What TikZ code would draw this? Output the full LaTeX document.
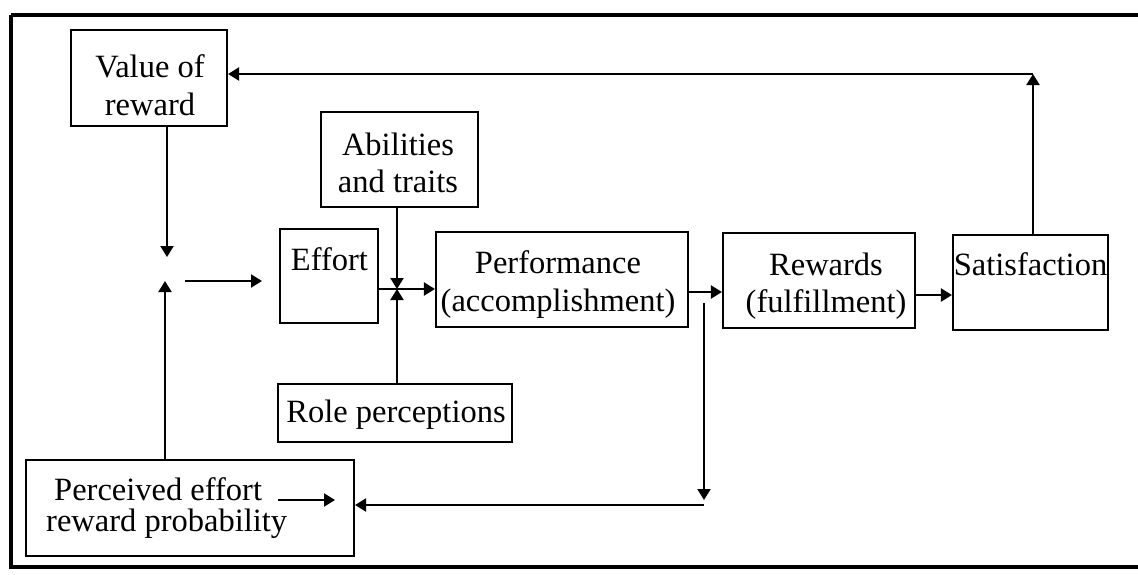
\documentclass[tikz,border=0pt]{standalone}
\usepackage{fontspec}
\setmainfont{Liberation Serif}
\usetikzlibrary{arrows.meta}
\begin{document}
\begin{tikzpicture}[x=1pt,y=-1pt,
  box/.style={draw, line width=2.1pt, inner sep=0pt, minimum width=#1},
  txt/.style={inner sep=0pt, align=center, font=\fontsize{32.5}{37.5}\selectfont},
  arr/.style={-{Triangle[length=11pt,width=13pt]}, line width=2.1pt}]
\useasboundingbox (0,0) rectangle (1138,574);
\begin{scope}
\clip (0,0) rectangle (1138,574);
\draw[line width=4.5pt] (11,15) -- (1150,15) (1150,567) -- (11,567) -- (11,15);
\end{scope}
% boxes
\node[box=156pt, minimum height=96pt] (value) at (149,78) {};
\node[box=157pt, minimum height=95pt] (abil) at (399.5,159.5) {};
\node[box=98pt, minimum height=94pt] (effort) at (329,276) {};
\node[box=252pt, minimum height=95pt] (perf) at (562,279.5) {};
\node[box=192pt, minimum height=95pt] (rew) at (819,280.5) {};
\node[box=155pt, minimum height=95pt] (sat) at (1030.5,282.5) {};
\node[box=234pt, minimum height=58pt] (role) at (395,413) {};
\node[box=328pt, minimum height=96pt] (perc) at (190,508) {};
% texts
\node[txt] (tvalue) at (150,85) {Value of\\reward};
\node[txt] (tabil) at (398,163) {Abilities\\and traits};
\node[txt, anchor=base] (teffort) at (329.5,270) {Effort};
\node[txt] (tperf) at (558,284.5) {Performance\\(accomplishment)};
\node[txt] (trew) at (826,286) {Rewards\\(fulfillment)};
\node[txt, anchor=base] (tsat) at (1030.5,275) {Satisfaction};
\node[txt, anchor=base] (trole) at (396,422) {Role perceptions};
\node[txt, align=left, anchor=west, font=\fontsize{32.5}{31}\selectfont] (tperc) at (46,508.5) {\hspace*{8pt}Perceived effort\\reward probability};
% coordinates
\coordinate (j1) at (167,257);
\coordinate (j2) at (165,281);
\coordinate (h1) at (185,281);
\coordinate (h2) at (262,281);
\coordinate (m) at (397,289);
\coordinate (y1) at (0,292);
\coordinate (y2) at (0,295);
\coordinate (c1) at (1033,74);
\coordinate (f1) at (704,303);
\coordinate (f2) at (704,500);
\coordinate (f3) at (704,505);
\coordinate (p1) at (278,500);
\coordinate (p2) at (335,500);
% connectors
\draw[arr] (value.south -| j1) -- (j1);
\draw[arr] (perc.north -| j2) -- (j2);
\draw[arr] (h1) -- (h2);
\draw[arr] (effort.east |- m) -- (perf.west |- m);
\draw[arr] (abil.south -| m) -- (m);
\draw[arr] (role.north -| m) -- (m);
\draw[arr] (perf.east |- y1) -- (rew.west |- y1);
\draw[arr] (rew.east |- y2) -- (sat.west |- y2);
\draw[arr] (sat.north -| c1) -- (c1);
\draw[arr] (c1) -- (value.east |- c1);
\draw[arr] (f1) -- (f2);
\draw[arr] (f3) -- (perc.east |- f3);
\draw[arr] (p1) -- (p2);
\end{tikzpicture}
\end{document}
